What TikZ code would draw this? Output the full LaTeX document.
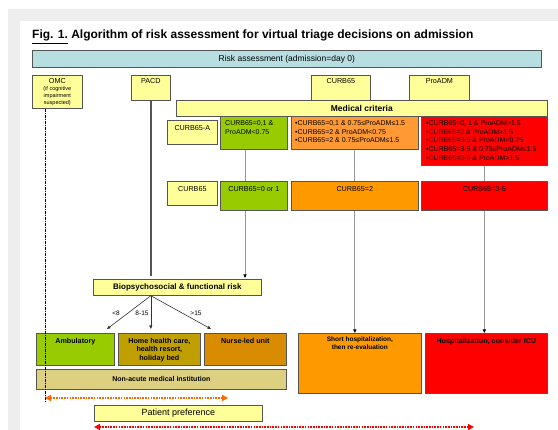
\documentclass[tikz,border=0pt]{standalone}
\usepackage{fontspec}
\setmainfont{Liberation Sans}
\usepackage{tikz}
\usetikzlibrary{arrows.meta, positioning}

\definecolor{cPage}{HTML}{EEEEEE}
\definecolor{cRisk}{HTML}{B7DEE0}
\definecolor{cYel}{HTML}{FFFF99}
\definecolor{cGrn}{HTML}{99CC00}
\definecolor{cOrA}{HTML}{FF9933}
\definecolor{cOrB}{HTML}{FF9900}
\definecolor{cRed}{HTML}{FF0000}
\definecolor{cOlv}{HTML}{C0A000}
\definecolor{cOch}{HTML}{D98C00}
\definecolor{cKha}{HTML}{DDD080}
\definecolor{cEdge}{HTML}{555555}
\definecolor{cWire}{HTML}{999999}
\definecolor{cDot}{HTML}{FF6600}

\tikzset{
  box/.style = {draw=cEdge, line width=0.7pt, inner sep=0pt, anchor=north west,
    font=\fontsize{7.2}{8.6}\selectfont},
  txt/.style = {inner sep=0pt, align=center, font=\fontsize{7.2}{8.6}\selectfont},
  btxt/.style = {txt, font=\bfseries\fontsize{7.2}{8.3}\selectfont},
  ltxt/.style = {inner sep=0pt, align=left, font=\fontsize{7}{8.7}\selectfont},
  lab/.style = {inner sep=0pt, font=\fontsize{6.5}{7}\selectfont},
  wire/.style = {draw=cWire, line width=0.9pt},
  feed/.style = {wire, -{Triangle[length=3.5pt, width=3pt, color=black]}},
  fk/.style = {draw=black!80, line width=0.6pt, -{Triangle[length=3.5pt, width=3pt]}},
  omcline/.style = {draw=black, line width=0.8pt, dash pattern=on 3pt off 1pt on 1pt off 1pt},
  dotarrow/.style = {line width=1.6pt, dash pattern=on 1.6pt off 1.1pt,
    {Triangle[length=6pt, width=6pt]}-{Triangle[length=6pt, width=6pt]}}
}

\begin{document}
\begin{tikzpicture}[x=1pt, y=-1pt]
\useasboundingbox (0,0) rectangle (558,430);
\fill[cPage] (8,9) rectangle (558,430);
\fill[white] (20,21) rectangle (558,430);

\node[anchor=base west, inner sep=0pt, font=\bfseries\fontsize{12}{14}\selectfont] (title) at (32,39)
  {\underline{Fig. 1.} Algorithm of risk assessment for virtual triage decisions on admission};

% risk assessment and inputs
\node[box, fill=cRisk, minimum width=509, minimum height=17, font=\fontsize{8.5}{10}\selectfont] (risk) at (32,50)
  {Risk assessment (admission=day 0)};
\node[box, fill=cYel, minimum width=50, minimum height=33] (omc) at (32,75) {};
\node[txt, below=3pt of omc.north] (omcT) {OMC};
\node[txt, font=\fontsize{5.5}{6.8}\selectfont, below=3pt of omcT] (omcS) {(if cognitive\\impairment\\suspected)};
\node[box, fill=cYel, minimum width=39, minimum height=25] (pacd) at (131,75) {};
\node[txt, below=3pt of pacd.north] (pacdT) {PACD};
\node[box, fill=cYel, minimum width=59, minimum height=25] (curbTop) at (311,75) {};
\node[txt, below=3pt of curbTop.north] (curbTopT) {CURB65};
\node[box, fill=cYel, minimum width=60, minimum height=25] (proadm) at (409,75) {};
\node[txt, below=3pt of proadm.north] (proadmT) {ProADM};
\node[box, fill=cYel, minimum width=371, minimum height=16, font=\bfseries\fontsize{8.5}{10}\selectfont] (medcrit) at (176,100)
  {Medical criteria};

% row 1: CURB65-A
\node[box, fill=cYel, minimum width=50, minimum height=24] (curbA) at (167,120) {};
\node[txt, below=5pt of curbA.north] (curbAT) {CURB65-A};
\node[box, fill=cGrn, minimum width=67, minimum height=33] (g1) at (220,116) {};
\node[ltxt, below right=4.5pt and 5pt of g1.north west] (g1T) {CURB65=0,1 \&\\ProADM<0.75};
\node[box, fill=cOrA, minimum width=127, minimum height=33] (o1) at (291,116) {};
\node[ltxt, below right=4.5pt and 4pt of o1.north west] (o1T)
  {•CURB65=0,1 \& 0.75≤ProADM≤1.5\\•CURB65=2 \& ProADM<0.75\\•CURB65=2 \& 0.75≤ProADM≤1.5};
\node[box, fill=cRed, minimum width=126, minimum height=49] (r1) at (421,116) {};
\node[ltxt, below right=4.5pt and 5pt of r1.north west] (r1T)
  {•CURB65=0, 1 \& ProADM>1.5\\•CURB65=2 \& ProADM>1.5\\•CURB65=3-5 \& ProADM<0.75\\%
   •CURB65=3-5 \& 0.75≤ProADM≤1.5\\•CURB65=3-5 \& ProADM>1.5};

% row 2: CURB65
\node[box, fill=cYel, minimum width=50, minimum height=24] (curbB) at (167,181) {};
\node[txt, below=5pt of curbB.north] (curbBT) {CURB65};
\node[box, fill=cGrn, minimum width=67, minimum height=29] (g2) at (220,181) {};
\node[txt, below=5.5pt of g2.north] (g2T) {CURB65=0 or 1};
\node[box, fill=cOrB, minimum width=127, minimum height=29] (o2) at (291,181) {};
\node[txt, below=5.5pt of o2.north] (o2T) {CURB65=2};
\node[box, fill=cRed, minimum width=126, minimum height=29] (r2) at (421,181) {};
\node[txt, below=5.5pt of r2.north] (r2T) {CURB65=3-5};

% biopsychosocial risk
\node[box, fill=cYel, minimum width=168, minimum height=16, font=\bfseries\fontsize{8}{9}\selectfont] (bio) at (93,279)
  {Biopsychosocial \& functional risk};

% outcomes
\node[box, fill=cGrn, minimum width=78, minimum height=32] (amb) at (36,333) {};
\node[btxt, below=5pt of amb.north] (ambT) {Ambulatory};
\node[box, fill=cOlv, minimum width=82, minimum height=32] (home) at (118,333) {};
\node[btxt, below=5pt of home.north] (homeT) {Home health care,\\health resort,\\holiday bed};
\node[box, fill=cOch, minimum width=82, minimum height=32] (nurse) at (204,333) {};
\node[btxt, below=5pt of nurse.north] (nurseT) {Nurse-led unit};
\node[box, fill=cKha, minimum width=250, minimum height=20, font=\bfseries\fontsize{7}{8}\selectfont] (nonacute) at (36,369)
  {Non-acute medical institution};
\node[box, fill=cOrB, minimum width=123, minimum height=60] (short) at (298,333) {};
\node[btxt, font=\bfseries\fontsize{6.5}{8}\selectfont, below=4pt of short.north] (shortT)
  {Short hospitalization,\\then re-evaluation};
\node[box, fill=cRed, minimum width=122, minimum height=60] (hosp) at (425,333) {};
\node[btxt, below=5pt of hosp.north] (hospT) {Hospitalization, consider ICU};
\node[box, fill=cYel, minimum width=168, minimum height=16, font=\fontsize{9}{10}\selectfont] (pref) at (94,405)
  {Patient preference};

% connectors
\coordinate (gcol) at (245,0);
\draw[wire] (gcol |- g1.south) -- (gcol |- g2.north);
\draw[feed, shorten >=1pt] (gcol |- g2.south) -- (gcol |- bio.north);
\draw[wire] (o1.south) -- (o1.south |- o2.north);
\draw[feed] (o1.south |- o2.south) -- (o1.south |- short.north);
\draw[wire] (r1.south) -- (r1.south |- r2.north);
\draw[feed] (r1.south |- r2.south) -- (r1.south |- hosp.north);
\draw[draw=cEdge, line width=1.5pt, shorten >=3pt] (pacd.south) -- (pacd.south |- bio.north);

\coordinate (fork) at (pacd.south |- bio.south);
\coordinate (tipA) at (107,329);
\coordinate (tipB) at (fork |- tipA);
\coordinate (tipC) at (211,329);
\draw[fk] (fork) -- (tipA);
\draw[fk] (fork) -- (tipB);
\draw[fk] (fork) -- (tipC);
\node[lab] (lt8) at (116,313) {<8};
\node[lab] (mid15) at (142,313) {8-15};
\node[lab] (gt15) at (196,313) {>15};

% OMC line and preference arrows
\coordinate (omcEnd) at (45,402);
\draw[omcline] (omcEnd |- omc.south) -- (omcEnd);
\coordinate (prefL) at (45,398);
\coordinate (prefR) at (228,398);
\draw[dotarrow, cDot] (prefL) -- (prefR);
\coordinate (prefEnd) at (474,427);
\draw[dotarrow, cRed] (pref.west |- prefEnd) -- (prefEnd);
\end{tikzpicture}
\end{document}
